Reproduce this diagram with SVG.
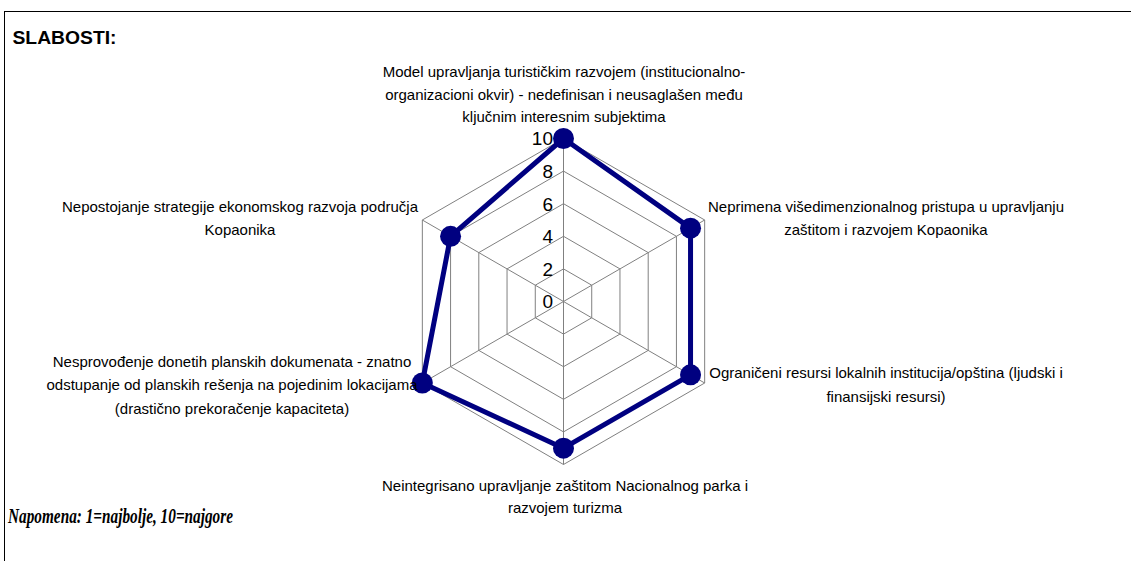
<svg xmlns="http://www.w3.org/2000/svg" width="1131" height="561" viewBox="0 0 1131 561">
<style>
.lbl{font-family:"Liberation Sans",Arial,sans-serif;font-size:15px;fill:#000;text-anchor:middle}
.ax{font-family:"Liberation Sans",Arial,sans-serif;font-size:19px;fill:#000;text-anchor:end}
.grid{fill:none;stroke:#808080;stroke-width:1}
.series{fill:none;stroke:#000080;stroke-width:5;stroke-linejoin:round}
.dot{fill:#000080}
</style>
<rect x="0" y="0" width="1131" height="561" fill="#fff"/>
<rect x="4.5" y="11.5" width="1200" height="600" fill="none" stroke="#000" stroke-width="1"/>
<text x="12.5" y="44" font-family="Liberation Sans,Arial,sans-serif" font-size="18" font-weight="bold" textLength="104" lengthAdjust="spacingAndGlyphs">SLABOSTI:</text>
<g id="grid">
<polygon class="grid" points="563.5,138.5 704.66,220 704.66,383 563.5,464.5 422.34,383 422.34,220"/>
<polygon class="grid" points="563.5,171.1 676.43,236.3 676.43,366.7 563.5,431.9 450.57,366.7 450.57,236.3"/>
<polygon class="grid" points="563.5,203.7 648.19,252.6 648.19,350.4 563.5,399.3 478.81,350.4 478.81,252.6"/>
<polygon class="grid" points="563.5,236.3 619.96,268.9 619.96,334.1 563.5,366.7 507.04,334.1 507.04,268.9"/>
<polygon class="grid" points="563.5,268.9 591.73,285.2 591.73,317.8 563.5,334.1 535.27,317.8 535.27,285.2"/>
<path class="grid" d="M563.5,301.5V138.5M563.5,301.5L704.66,220M563.5,301.5L704.66,383M563.5,301.5V464.5M563.5,301.5L422.34,383M563.5,301.5L422.34,220"/>
</g>
<g id="axis-labels">
<text class="ax" x="553" y="308.3">0</text>
<text class="ax" x="553" y="275.7">2</text>
<text class="ax" x="553" y="243.1">4</text>
<text class="ax" x="553" y="210.5">6</text>
<text class="ax" x="553" y="177.9">8</text>
<text class="ax" x="553" y="145.3">10</text>
</g>
<g id="connectors">
<polygon class="series" points="563.5,138.5 690.54,228.15 690.54,374.85 563.5,448.2 422.34,383 450.57,236.3"/>
</g>
<g id="points">
<circle class="dot" cx="563.5" cy="138.5" r="10.5"/>
<circle class="dot" cx="690.54" cy="228.15" r="10.5"/>
<circle class="dot" cx="690.54" cy="374.85" r="10.5"/>
<circle class="dot" cx="563.5" cy="448.2" r="10.5"/>
<circle class="dot" cx="422.34" cy="383" r="10.5"/>
<circle class="dot" cx="450.57" cy="236.3" r="10.5"/>
</g>
<g id="label-top">
<text class="lbl" x="564" y="77">Model upravljanja turističkim razvojem (institucionalno-</text>
<text class="lbl" x="564" y="99.5">organizacioni okvir) - nedefinisan i neusaglašen među</text>
<text class="lbl" x="564" y="122">ključnim interesnim subjektima</text>
</g>
<g id="label-upper-right">
<text class="lbl" x="886" y="211.5">Neprimena višedimenzionalnog pristupa u upravljanju</text>
<text class="lbl" x="886" y="235">zaštitom i razvojem Kopaonika</text>
</g>
<g id="label-lower-right">
<text class="lbl" x="886" y="378">Ograničeni resursi lokalnih institucija/opština (ljudski i</text>
<text class="lbl" x="886" y="401.5">finansijski resursi)</text>
</g>
<g id="label-bottom">
<text class="lbl" x="565" y="490.5">Neintegrisano upravljanje zaštitom Nacionalnog parka i</text>
<text class="lbl" x="565" y="513">razvojem turizma</text>
</g>
<g id="label-lower-left">
<text class="lbl" x="232" y="367">Nesprovođenje donetih planskih dokumenata - znatno</text>
<text class="lbl" x="232" y="390">odstupanje od planskih rešenja na pojedinim lokacijama</text>
<text class="lbl" x="232" y="413.5">(drastično prekoračenje kapaciteta)</text>
</g>
<g id="label-upper-left">
<text class="lbl" x="240" y="212">Nepostojanje strategije ekonomskog razvoja područja</text>
<text class="lbl" x="240" y="235">Kopaonika</text>
</g>
<text x="8" y="523" font-family="Liberation Serif,Times New Roman,serif" font-size="20" font-weight="bold" font-style="italic" textLength="225" lengthAdjust="spacingAndGlyphs">Napomena: 1=najbolje, 10=najgore</text>
</svg>
